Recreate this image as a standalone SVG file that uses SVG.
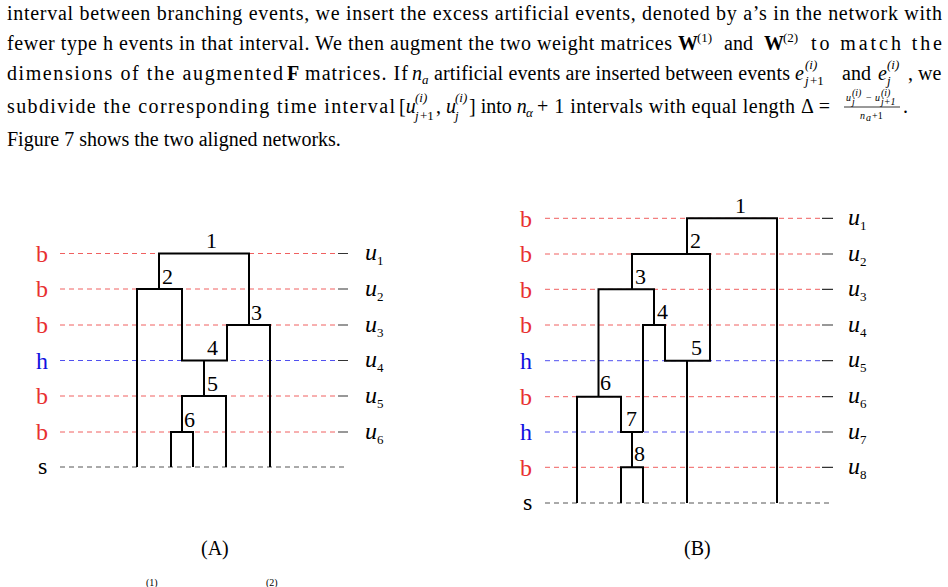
<svg xmlns="http://www.w3.org/2000/svg" width="948" height="587" viewBox="0 0 948 587" font-family="'Liberation Serif', 'Times New Roman', serif">
<style>
text,tspan{font-family:"Liberation Serif","Times New Roman",serif;fill:#000}
.p{font-size:20px}
.i{font-style:italic}
.s{font-size:13px}
.xs{font-size:10px}
.lbl{font-size:24px}
.n{font-size:22px}
.br{stroke:#f06060;stroke-width:1;stroke-dasharray:5 4;fill:none}
.bh{stroke:#5050f0;stroke-width:1;stroke-dasharray:5 4;fill:none}
.bs{stroke:#555;stroke-width:1;stroke-dasharray:5 4;fill:none}
.tk{stroke:#333;stroke-width:1.2}
.t{stroke:#000;stroke-width:2;fill:none}
.red{fill:#e83030}
.blue{fill:#1010e0}
</style>
<g id="paragraph">
<text class="p" x="7" y="20" textLength="935" lengthAdjust="spacing">interval between branching events, we insert the excess artificial events, denoted by a’s in the network with</text>
<text class="p" x="7" y="50" textLength="665" lengthAdjust="spacing">fewer type h events in that interval. We then augment the two weight matrices</text>
<text class="p" x="678" y="50" font-weight="bold">W</text><text class="s" x="697" y="42">(1)</text>
<text class="p" x="724" y="50">and</text>
<text class="p" x="764" y="50" font-weight="bold">W</text><text class="s" x="783" y="42">(2)</text>
<text class="p" x="811" y="50" textLength="131" lengthAdjust="spacing">to match the</text>
<text class="p" x="7" y="80" textLength="276" lengthAdjust="spacing">dimensions of the augmented</text>
<text class="p" x="287" y="80" font-weight="bold">F</text>
<text class="p" x="305" y="80" textLength="103" lengthAdjust="spacing">matrices. If</text>
<text class="p i" x="412" y="80">n</text><text class="s i" x="422" y="84">a</text>
<text class="p" x="434" y="80" textLength="356" lengthAdjust="spacing">artificial events are inserted between events</text>
<text class="p i" x="795" y="80">e</text><text class="s i" x="805" y="69">(i)</text><text class="s i" x="805" y="85">j</text><text class="s" x="810" y="85">+1</text>
<text class="p" x="842" y="80">and</text>
<text class="p i" x="878" y="80">e</text><text class="s i" x="887" y="69">(i)</text><text class="s i" x="887" y="85">j</text>
<text class="p" x="908" y="80">, we</text>
<text class="p" x="7" y="113" textLength="388" lengthAdjust="spacing">subdivide the corresponding time interval</text>
<text class="p" x="399" y="113">[<tspan class="i">u</tspan></text><text class="s i" x="415" y="102">(i)</text><text class="s i" x="415" y="120">j</text><text class="s" x="420" y="120">+1</text>
<text class="p" x="436" y="113">, <tspan class="i">u</tspan></text><text class="s i" x="455" y="102">(i)</text><text class="s i" x="455" y="120">j</text>
<text class="p" x="469" y="113">] into <tspan class="i">n</tspan></text><text class="s i" x="526" y="117">α</text>
<text class="p" x="537" y="113" textLength="293" lengthAdjust="spacing">+ 1 intervals with equal length Δ =</text>
<text class="xs i" x="846" y="101">u</text><text class="xs i" x="852" y="96">(i)</text><text class="xs i" x="852" y="105">j</text><text class="xs" x="866" y="101">−</text><text class="xs i" x="875" y="101">u</text><text class="xs i" x="881" y="96">(i)</text><text class="xs i" x="881" y="105">j+1</text>
<line x1="844" y1="107" x2="900" y2="107" stroke="#000" stroke-width="0.8"/>
<text class="xs i" x="860" y="119">n</text><text class="xs i" x="866" y="121">a</text><text class="xs" x="872" y="119">+1</text>
<text class="p" x="903" y="113">.</text>
<text class="p" x="7" y="146">Figure 7 shows the two aligned networks.</text>
</g>
<g id="diagramA">
<g id="A-levels">
<path class="br" d="M60 253.5H338M60 289H338M60 325H338M60 396H338M60 432H338"/>
<path class="bh" d="M60 360.5H338"/>
<path class="bs" d="M60 467H348"/>
<path class="tk" d="M338 253.5H348M338 289H348M338 325H348M338 360.5H348M338 396H348M338 432H348"/>
<text class="lbl red" x="36" y="262">b</text><text class="lbl red" x="36" y="297">b</text><text class="lbl red" x="36" y="333">b</text>
<text class="lbl blue" x="36" y="369">h</text><text class="lbl red" x="36" y="404">b</text><text class="lbl red" x="36" y="440">b</text>
<text class="lbl" x="38" y="474">s</text>
<text class="lbl i" x="365" y="260">u<tspan class="s" font-style="normal" dy="5">1</tspan></text>
<text class="lbl i" x="365" y="296">u<tspan class="s" font-style="normal" dy="5">2</tspan></text>
<text class="lbl i" x="365" y="332">u<tspan class="s" font-style="normal" dy="5">3</tspan></text>
<text class="lbl i" x="365" y="367">u<tspan class="s" font-style="normal" dy="5">4</tspan></text>
<text class="lbl i" x="365" y="403">u<tspan class="s" font-style="normal" dy="5">5</tspan></text>
<text class="lbl i" x="365" y="439">u<tspan class="s" font-style="normal" dy="5">6</tspan></text>
</g>
<g id="A-tree">
<path class="t" d="M159 289V253.5H249V325"/>
<path class="t" d="M137 467V289H182V360.5H227V325H270V467"/>
<path class="t" d="M204 360.5V396"/>
<path class="t" d="M182 432V396H226V467"/>
<path class="t" d="M171 467V432H193V467"/>
<text class="n" x="206" y="248">1</text><text class="n" x="162" y="284">2</text><text class="n" x="251" y="320">3</text>
<text class="n" x="207" y="355">4</text><text class="n" x="207" y="391">5</text><text class="n" x="184" y="427">6</text>
</g>
<text class="p" x="201" y="555">(A)</text>
</g>
<g id="diagramB">
<g id="B-levels">
<path class="br" d="M545 218.3H822M545 254H822M545 289.3H822M545 325H822M545 396.7H822M545 467.3H822"/>
<path class="bh" d="M545 360.7H822M545 432H822"/>
<path class="bs" d="M545 503H832"/>
<path class="tk" d="M822 218.3H833M822 254H833M822 289.3H833M822 325H833M822 360.7H833M822 396.7H833M822 432H833M822 467.3H833"/>
<text class="lbl red" x="520" y="227">b</text><text class="lbl red" x="520" y="262">b</text><text class="lbl red" x="520" y="298">b</text>
<text class="lbl red" x="520" y="333">b</text><text class="lbl blue" x="520" y="369">h</text><text class="lbl red" x="520" y="405">b</text>
<text class="lbl blue" x="520" y="440">h</text><text class="lbl red" x="520" y="476">b</text><text class="lbl" x="523" y="510">s</text>
<text class="lbl i" x="848" y="225">u<tspan class="s" font-style="normal" dy="5">1</tspan></text>
<text class="lbl i" x="848" y="261">u<tspan class="s" font-style="normal" dy="5">2</tspan></text>
<text class="lbl i" x="848" y="296">u<tspan class="s" font-style="normal" dy="5">3</tspan></text>
<text class="lbl i" x="848" y="332">u<tspan class="s" font-style="normal" dy="5">4</tspan></text>
<text class="lbl i" x="848" y="367">u<tspan class="s" font-style="normal" dy="5">5</tspan></text>
<text class="lbl i" x="848" y="403">u<tspan class="s" font-style="normal" dy="5">6</tspan></text>
<text class="lbl i" x="848" y="439">u<tspan class="s" font-style="normal" dy="5">7</tspan></text>
<text class="lbl i" x="848" y="474">u<tspan class="s" font-style="normal" dy="5">8</tspan></text>
</g>
<g id="B-tree">
<path class="t" d="M687 254V218.3H777V503"/>
<path class="t" d="M632 289.3V254H710V360.7H665V325H643V432"/>
<path class="t" d="M687 360.7V503"/>
<path class="t" d="M577 503V396.7H621V432H643"/>
<path class="t" d="M598.5 396.7V289.3H654V325"/>
<path class="t" d="M632 432V467.3"/>
<path class="t" d="M621 503V467.3H643V503"/>
<text class="n" x="735" y="213">1</text><text class="n" x="690" y="248">2</text><text class="n" x="635" y="284">3</text>
<text class="n" x="657" y="319">4</text><text class="n" x="691" y="355">5</text><text class="n" x="600" y="390">6</text>
<text class="n" x="626" y="426">7</text><text class="n" x="634" y="461">8</text>
</g>
<text class="p" x="684" y="555">(B)</text>
</g>
<g id="cut-line">
<text class="xs" x="146" y="586">(1)</text><text class="xs" x="266" y="586">(2)</text>
</g>
</svg>
